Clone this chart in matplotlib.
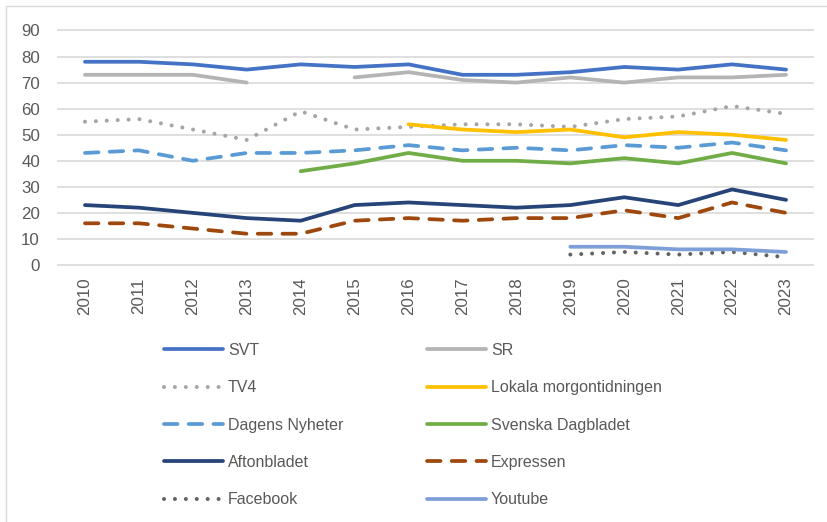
import matplotlib
matplotlib.use("Agg")
import matplotlib.pyplot as plt
from matplotlib.lines import Line2D
from matplotlib.patches import Rectangle
import numpy as np

nan = np.nan
years = [str(y) for y in range(2010, 2024)]

svt = [78, 78, 77, 75, 77, 76, 77, 73, 73, 74, 76, 75, 77, 75]
sr = [73, 73, 73, 70, nan, 72, 74, 71, 70, 72, 70, 72, 72, 73]
tv4 = [55, 56, 52, 48, 59, 52, 53, 54, 54, 53, 56, 57, 61, 58]
lokala = [nan] * 6 + [54, 52, 51, 52, 49, 51, 50, 48]
dn = [43, 44, 40, 43, 43, 44, 46, 44, 45, 44, 46, 45, 47, 44]
svd = [nan] * 4 + [36, 39, 43, 40, 40, 39, 41, 39, 43, 39]
aftonbladet = [23, 22, 20, 18, 17, 23, 24, 23, 22, 23, 26, 23, 29, 25]
expressen = [16, 16, 14, 12, 12, 17, 18, 17, 18, 18, 21, 18, 24, 20]
facebook = [nan] * 9 + [4, 5, 4, 5, 3]
youtube = [nan] * 9 + [7, 7, 6, 6, 5]

dotted = (0, (0.01, 2.7))
dashed = (0, (3.6, 3.0))

# name, values, colour, linestyle, width
series = [
    ("SVT", svt, "#4472C4", "-", 2.7),
    ("SR", sr, "#B4B4B4", "-", 2.7),
    ("TV4", tv4, "#A5A5A5", dotted, 2.9),
    ("Lokala morgontidningen", lokala, "#FFC000", "-", 2.7),
    ("Dagens Nyheter", dn, "#5B9BD5", dashed, 2.7),
    ("Svenska Dagbladet", svd, "#70AD47", "-", 2.7),
    ("Aftonbladet", aftonbladet, "#264478", "-", 2.7),
    ("Expressen", expressen, "#9E480E", dashed, 2.7),
    ("Facebook", facebook, "#636363", dotted, 2.9),
    ("Youtube", youtube, "#7F9FD9", "-", 2.7),
]

fig = plt.figure(figsize=(8.27, 5.22), dpi=100)
ax = fig.add_axes([58 / 827, 1 - 265 / 522, (813 - 58) / 827, (265 - 30.5) / 522])

x = np.arange(len(years))
handles = []
for name, vals, col, ls, lw in series:
    ax.plot(x, vals, color=col, linestyle=ls, linewidth=lw,
            solid_capstyle="round", dash_capstyle="round", zorder=3)
    handles.append(Line2D([], [], color=col, linestyle=ls, linewidth=lw,
                          solid_capstyle="round", dash_capstyle="round"))

ax.set_xlim(-0.5, len(years) - 0.5)
ax.set_ylim(0, 90)
ax.set_yticks(range(0, 91, 10))
ax.set_xticks(x)
ax.set_xticklabels(years, rotation=90)
ax.grid(axis="y", color="#D9D9D9", linewidth=1.2)
ax.set_axisbelow(True)
for g in ax.get_ygridlines():
    g.set_clip_on(False)
for s in ax.spines.values():
    s.set_visible(False)
ax.tick_params(length=0, colors="#595959", labelsize=12.2)
ax.tick_params(axis="y", pad=13)
ax.tick_params(axis="x", pad=9)
for lab in ax.get_xticklabels() + ax.get_yticklabels():
    lab.set_family(["Liberation Sans", "DejaVu Sans"])

leg_font = {"family": ["Liberation Sans", "DejaVu Sans"], "size": 11.5}
col1 = [0, 2, 4, 6, 8]
col2 = [1, 3, 5, 7, 9]
for idx, left in ((col1, 164), (col2, 427)):
    leg = fig.legend([handles[i] for i in idx], [series[i][0] for i in idx],
                     loc="upper left", bbox_to_anchor=(left / 827, 1 - 343 / 522),
                     frameon=False, prop=leg_font, borderpad=0, borderaxespad=0,
                     handlelength=3.7, handletextpad=0.3, labelspacing=1.4)
    for t in leg.get_texts():
        t.set_color("#595959")

fig.patches.append(Rectangle((6 / 827, -0.2), 1.5, 1.2 - 6 / 522, transform=fig.transFigure,
                             fill=False, edgecolor="#D9D9D9", linewidth=1))

fig.savefig("out.png", dpi=100)
